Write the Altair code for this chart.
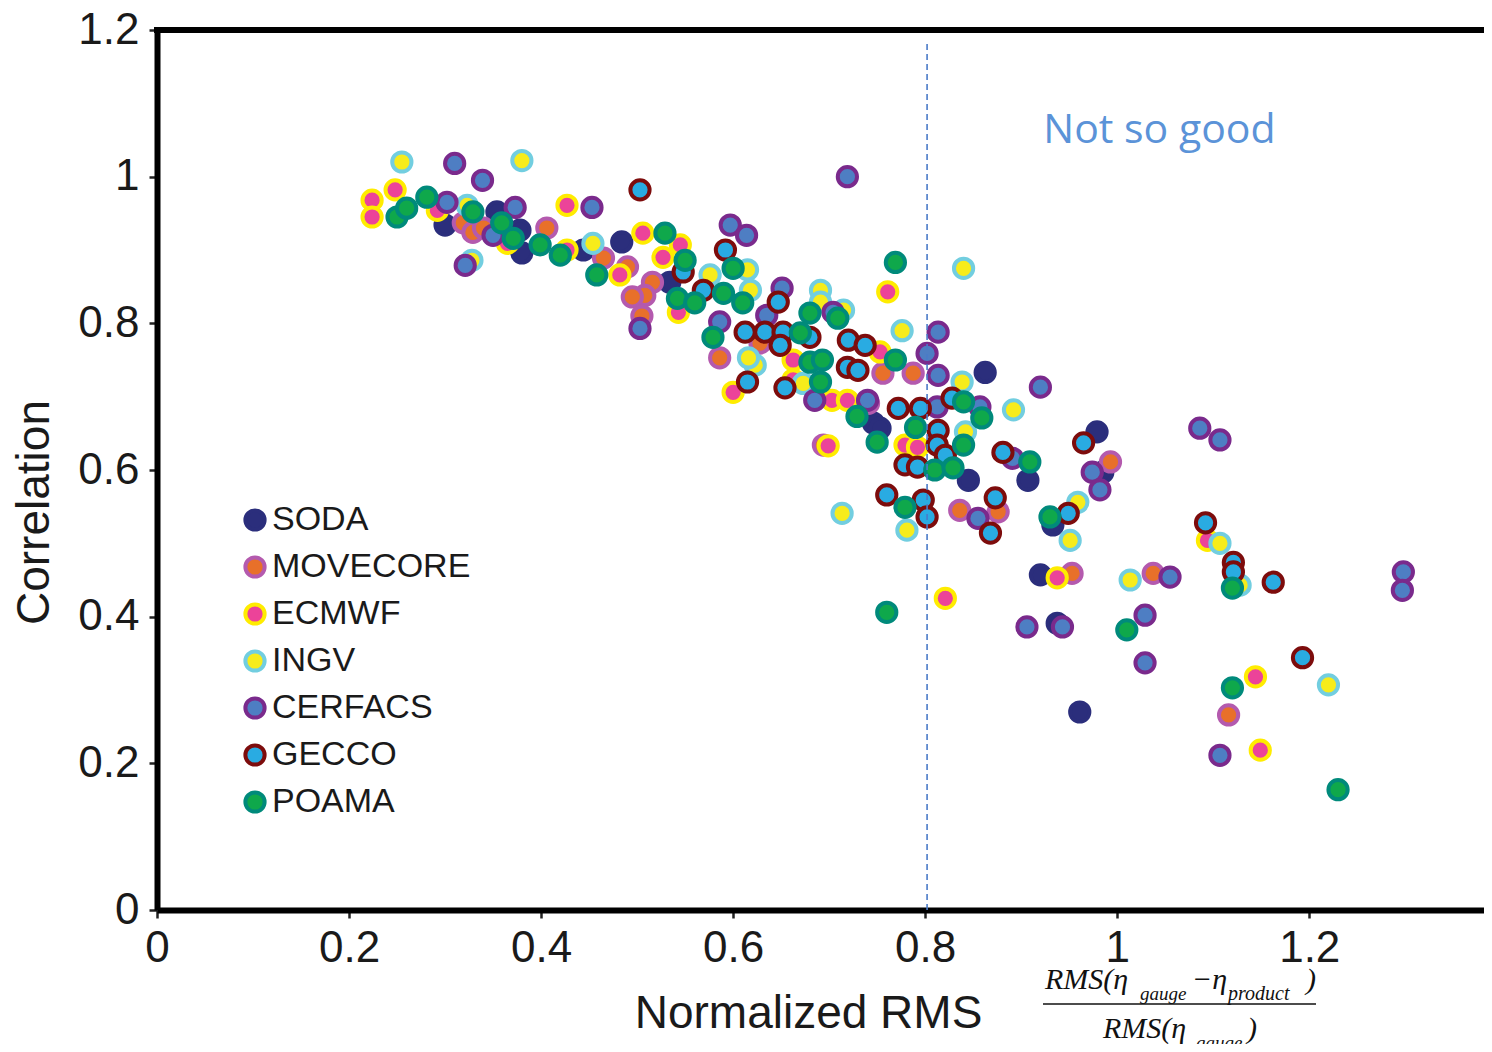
import altair as alt
import pandas as pd

names = ["SODA", "MOVECORE", "ECMWF", "INGV", "CERFACS", "GECCO", "POAMA"]
fills = ["#2B2E7C", "#E8702A", "#EC4399", "#F7EC1B", "#4E7EC3", "#29ABE2", "#0FA84B"]
strokes = ["#2B2E7C", "#B45AAE", "#FFEC00", "#72CEE0", "#7A2A8C", "#7D0C0C", "#008A7B"]

soda_x = [0.300, 0.354, 0.378, 0.380, 0.444, 0.484, 0.534, 0.746, 0.753, 0.8625, 0.845, 0.907,
          0.979, 0.933, 0.920, 0.9375, 0.961, 0.985]
soda_y = [0.934, 0.952, 0.927, 0.896, 0.900, 0.911, 0.856, 0.664, 0.657, 0.733, 0.586, 0.586,
          0.652, 0.525, 0.457, 0.391, 0.270, 0.597]

move_x = [0.319, 0.329, 0.340, 0.406, 0.465, 0.490, 0.516, 0.508, 0.495, 0.505, 0.586, 0.628,
          0.756, 0.7875, 0.741, 0.694, 0.836, 0.876, 0.993, 0.953, 1.0375, 1.116]
move_y = [0.937, 0.924, 0.930, 0.930, 0.889, 0.877, 0.856, 0.838, 0.836, 0.810, 0.753, 0.773,
          0.732, 0.732, 0.691, 0.634, 0.545, 0.543, 0.611, 0.459, 0.459, 0.266]

ecmwf_x = [0.224, 0.224, 0.248, 0.292, 0.427, 0.427, 0.365, 0.482, 0.506, 0.545, 0.527, 0.543,
           0.600, 0.6625, 0.6625, 0.703, 0.719, 0.699, 0.761, 0.753, 0.779, 0.792, 0.821, 0.9375,
           1.094, 1.144, 1.149]
ecmwf_y = [0.968, 0.945, 0.982, 0.954, 0.961, 0.900, 0.909, 0.866, 0.923, 0.907, 0.890, 0.815,
           0.706, 0.750, 0.723, 0.695, 0.695, 0.633, 0.843, 0.761, 0.634, 0.631, 0.425, 0.453,
           0.504, 0.318, 0.218]

ingv_x = [0.255, 0.380, 0.328, 0.323, 0.454, 0.576, 0.615, 0.618, 0.691, 0.691, 0.715, 0.623,
          0.616, 0.673, 0.776, 0.840, 0.8385, 0.842, 0.892, 0.7135, 0.781, 0.959, 0.951, 1.0135,
          1.107, 1.128, 1.220]
ingv_y = [1.020, 1.022, 0.886, 0.961, 0.909, 0.866, 0.873, 0.845, 0.845, 0.829, 0.818, 0.743,
          0.753, 0.718, 0.790, 0.875, 0.720, 0.652, 0.682, 0.541, 0.518, 0.556, 0.504, 0.450,
          0.500, 0.443, 0.307]

cerf_x = [0.310, 0.339, 0.302, 0.373, 0.350, 0.321, 0.453, 0.503, 0.597, 0.614, 0.651, 0.635,
          0.586, 0.704, 0.685, 0.740, 0.719, 0.8135, 0.802, 0.8135, 0.8125, 0.857, 0.920, 0.891,
          0.855, 0.974, 0.982, 1.086, 1.107, 1.055, 0.906, 0.943, 1.029, 1.029, 1.107, 1.298, 1.297]
cerf_y = [1.018, 0.995, 0.965, 0.958, 0.920, 0.879, 0.958, 0.793, 0.934, 0.920, 0.848, 0.811,
          0.802, 0.815, 0.695, 0.695, 1.000, 0.788, 0.759, 0.729, 0.686, 0.686, 0.713, 0.616,
          0.534, 0.597, 0.573, 0.657, 0.641, 0.454, 0.386, 0.386, 0.402, 0.337, 0.211, 0.461, 0.436]

gecco_x = [0.503, 0.592, 0.548, 0.569, 0.647, 0.6125, 0.633, 0.652, 0.649, 0.680, 0.720, 0.7375,
           0.719, 0.730, 0.615, 0.654, 0.772, 0.795, 0.828, 0.8135, 0.8125, 0.821, 0.779, 0.792,
           0.760, 0.798, 0.802, 0.873, 0.868, 0.881, 0.965, 0.949, 1.092, 1.121, 1.121, 1.1625, 1.193]
gecco_y = [0.982, 0.900, 0.870, 0.845, 0.829, 0.788, 0.788, 0.788, 0.770, 0.781, 0.777, 0.770,
           0.740, 0.736, 0.720, 0.712, 0.684, 0.684, 0.698, 0.654, 0.634, 0.620, 0.607, 0.604,
           0.566, 0.559, 0.536, 0.562, 0.514, 0.624, 0.637, 0.541, 0.528, 0.474, 0.461, 0.447, 0.344]

poama_x = [0.250, 0.260, 0.281, 0.329, 0.359, 0.371, 0.399, 0.420, 0.458, 0.529, 0.550, 0.542,
           0.560, 0.579, 0.590, 0.600, 0.610, 0.670, 0.680, 0.709, 0.680, 0.693, 0.691, 0.729,
           0.750, 0.769, 0.769, 0.790, 0.840, 0.859, 0.840, 0.810, 0.829, 0.779, 0.760, 0.909,
           0.930, 1.010, 1.120, 1.120, 1.230]
poama_y = [0.945, 0.957, 0.972, 0.952, 0.937, 0.916, 0.907, 0.893, 0.866, 0.923, 0.886, 0.834,
           0.828, 0.781, 0.841, 0.875, 0.828, 0.787, 0.814, 0.807, 0.747, 0.750, 0.720, 0.673,
           0.638, 0.883, 0.750, 0.658, 0.693, 0.671, 0.634, 0.600, 0.603, 0.549, 0.406, 0.611,
           0.536, 0.382, 0.439, 0.303, 0.164]

x_ticks = [0, 0.2, 0.4, 0.6, 0.8, 1.0, 1.2]
y_ticks = [0, 0.2, 0.4, 0.6, 0.8, 1.0, 1.2]

series_x = [soda_x, move_x, ecmwf_x, ingv_x, cerf_x, gecco_x, poama_x]
series_y = [soda_y, move_y, ecmwf_y, ingv_y, cerf_y, gecco_y, poama_y]
rows = []
for nm, xs, ys in zip(names, series_x, series_y):
    for xv, yv in zip(xs, ys):
        rows.append({"model": nm, "rms": xv, "corr": yv})
df = pd.DataFrame(rows)

W, H = 1327, 880
XMAX = 1.382

xscale = alt.Scale(domain=[0, XMAX], nice=False, zero=False)
yscale = alt.Scale(domain=[0, 1.2], nice=False, zero=False)

legend = alt.Legend(title=None, orient="none", legendX=81, legendY=473,
                    labelFont="Liberation Sans", labelFontSize=34, labelColor="#1a1a1a",
                    labelLimit=0,
                    symbolSize=370, symbolStrokeWidth=4, symbolType="circle",
                    rowPadding=11, labelOffset=0)

points = alt.Chart(df).mark_point(filled=True, size=370, strokeWidth=4, opacity=1, shape="circle").encode(
    x=alt.X("rms:Q", scale=xscale,
            axis=alt.Axis(values=x_ticks, format=".1~f", title="Normalized RMS", labelFlush=False,
                          titleX=651, titleY=117, titleBaseline="alphabetic", titleAlign="center",
                          labelPadding=8)),
    y=alt.Y("corr:Q", scale=yscale,
            axis=alt.Axis(values=y_ticks, format=".1~f", title="Correlation",
                          titleX=-109, titleY=482, titleAngle=270, titleBaseline="alphabetic",
                          titleAlign="center", labelPadding=10)),
    fill=alt.Fill("model:N", scale=alt.Scale(domain=names, range=fills), legend=legend),
    stroke=alt.Stroke("model:N", scale=alt.Scale(domain=names, range=strokes), legend=legend),
)

one = pd.DataFrame({"a": [0]})

top_rule = alt.Chart(one).mark_rule(color="black", strokeWidth=6).encode(
    x=alt.value(-3), x2=alt.value(W), y=alt.value(0))

dash = alt.Chart(one).mark_rule(color="#4A7BC8", strokeWidth=1.6, strokeDash=[6, 4]).encode(
    x=alt.datum(0.802), y=alt.datum(0), y2=alt.datum(1.184))

not_good = alt.Chart(one).mark_text(text="Not so good", font="Open Sans", fontSize=41,
                                    color="#5B93D8", align="left", baseline="alphabetic").encode(
    x=alt.datum(0.923), y=alt.datum(1.046))

serif = dict(font="Liberation Serif", fontStyle="italic", color="#111111", align="left",
             baseline="alphabetic")

def txt(s, px, py, size):
    return alt.Chart(one).mark_text(text=s, fontSize=size, **serif).encode(
        x=alt.value(px), y=alt.value(py))

formula = [
    txt("RMS(η", 888, 959, 30),
    txt("gauge", 983, 970, 19),
    txt("−η", 1035, 959, 30),
    txt("product", 1071, 970, 20),
    txt(")", 1149, 959, 30),
    txt("RMS(η", 946, 1008, 30),
    txt("gauge", 1039, 1019, 19),
    txt(")", 1090, 1008, 30),
    alt.Chart(one).mark_rule(color="#111111", strokeWidth=1.5).encode(
        x=alt.value(886), x2=alt.value(1159), y=alt.value(974)),
]

chart = alt.layer(points, top_rule, dash, not_good, *formula).properties(
    width=W, height=H,
    padding={"left": 149, "top": 22, "right": 0, "bottom": 134},
    autosize=alt.AutoSizeParams(type="none"),
).configure_view(stroke=None).configure_axis(
    grid=False, domainColor="black", domainWidth=6, tickColor="#222222", tickWidth=2.5,
    tickSize=8, labelFont="Liberation Sans", labelFontSize=44, labelColor="#1a1a1a",
    titleFont="Liberation Sans", titleFontSize=46, titleFontWeight="normal", titleColor="#1a1a1a",
    labelOverlap=False,
)

chart.save("out.html", embed_options={"renderer": "svg", "actions": False})
